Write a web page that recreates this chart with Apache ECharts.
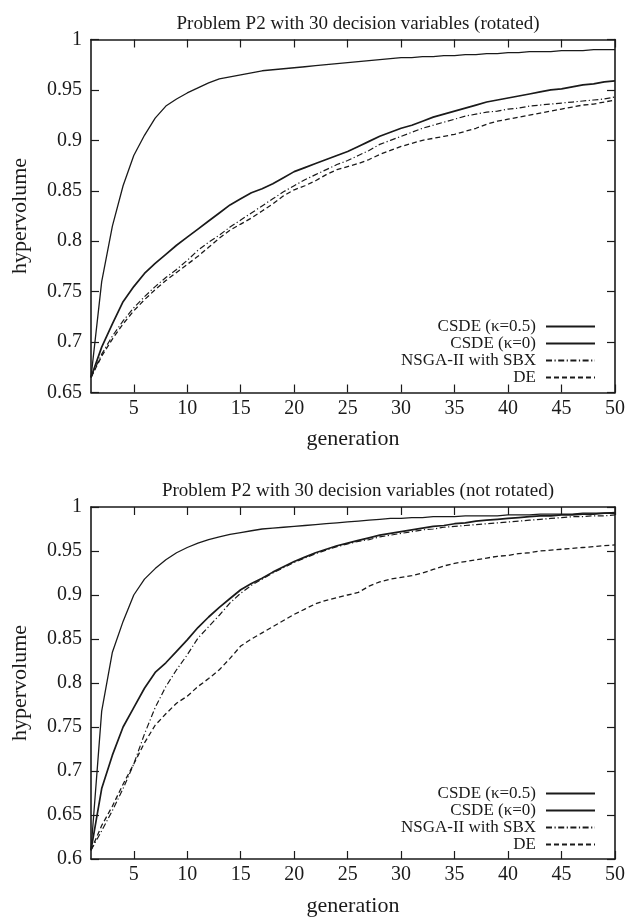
<!DOCTYPE html>
<html>
<head>
<meta charset="utf-8">
<script src="https://cdn.jsdelivr.net/npm/echarts@6/dist/echarts.min.js"></script>
<style>
  html, body { margin: 0; padding: 0; background: #ffffff; }
  #chart { width: 629px; height: 918px; }
</style>
</head>
<body>
<div id="chart"></div>
<script>
// Generations on the x axis
const generations = [1, 2, 3, 4, 5, 6, 7, 8, 9, 10, 11, 12, 13, 14, 15, 16, 17, 18, 19, 20,
  21, 22, 23, 24, 25, 26, 27, 28, 29, 30, 31, 32, 33, 34, 35, 36, 37, 38, 39, 40,
  41, 42, 43, 44, 45, 46, 47, 48, 49, 50];
const xTickValues = [5, 10, 15, 20, 25, 30, 35, 40, 45, 50];

const seriesNames = ['CSDE (κ=0.5)', 'CSDE (κ=0)', 'NSGA-II with SBX', 'DE'];
const panelTitles = [
  'Problem P2 with 30 decision variables (rotated)',
  'Problem P2 with 30 decision variables (not rotated)'
];

// Mean hypervolume per generation, rotated problem
const rotCsde05 = [0.665, 0.760, 0.815, 0.855, 0.885, 0.905, 0.922, 0.934, 0.941, 0.947,
  0.952, 0.957, 0.961, 0.963, 0.965, 0.967, 0.969, 0.970, 0.971, 0.972,
  0.973, 0.974, 0.975, 0.976, 0.977, 0.978, 0.979, 0.980, 0.981, 0.982,
  0.982, 0.983, 0.983, 0.984, 0.984, 0.985, 0.985, 0.986, 0.986, 0.987,
  0.987, 0.988, 0.988, 0.988, 0.989, 0.989, 0.989, 0.990, 0.990, 0.990];
const rotCsde0 = [0.665, 0.695, 0.718, 0.740, 0.755, 0.768, 0.778, 0.787, 0.796, 0.804,
  0.812, 0.820, 0.828, 0.836, 0.842, 0.848, 0.852, 0.857, 0.863, 0.869,
  0.873, 0.877, 0.881, 0.885, 0.889, 0.894, 0.899, 0.904, 0.908, 0.912,
  0.915, 0.919, 0.923, 0.926, 0.929, 0.932, 0.935, 0.938, 0.940, 0.942,
  0.944, 0.946, 0.948, 0.950, 0.951, 0.953, 0.955, 0.956, 0.958, 0.959];
const rotNsga = [0.665, 0.688, 0.706, 0.721, 0.734, 0.745, 0.755, 0.764, 0.772, 0.781,
  0.791, 0.799, 0.806, 0.814, 0.821, 0.828, 0.835, 0.842, 0.849, 0.855,
  0.861, 0.866, 0.871, 0.876, 0.880, 0.885, 0.890, 0.896, 0.900, 0.904,
  0.908, 0.912, 0.915, 0.918, 0.921, 0.924, 0.926, 0.928, 0.929, 0.931,
  0.932, 0.934, 0.935, 0.936, 0.937, 0.938, 0.939, 0.940, 0.941, 0.943];
const rotDe = [0.665, 0.686, 0.703, 0.718, 0.731, 0.742, 0.752, 0.761, 0.769, 0.777,
  0.785, 0.794, 0.803, 0.811, 0.817, 0.823, 0.830, 0.837, 0.845, 0.851,
  0.855, 0.860, 0.866, 0.871, 0.874, 0.877, 0.881, 0.886, 0.890, 0.894,
  0.897, 0.900, 0.902, 0.904, 0.906, 0.909, 0.912, 0.916, 0.919, 0.921,
  0.923, 0.925, 0.927, 0.929, 0.931, 0.933, 0.935, 0.936, 0.938, 0.940];

// Mean hypervolume per generation, non-rotated problem
const nrCsde05 = [0.610, 0.768, 0.835, 0.870, 0.900, 0.918, 0.930, 0.940, 0.948, 0.954,
  0.959, 0.963, 0.966, 0.969, 0.971, 0.973, 0.975, 0.976, 0.977, 0.978,
  0.979, 0.980, 0.981, 0.982, 0.983, 0.984, 0.985, 0.986, 0.987, 0.987,
  0.988, 0.988, 0.989, 0.989, 0.989, 0.990, 0.990, 0.990, 0.990, 0.991,
  0.991, 0.991, 0.992, 0.992, 0.992, 0.992, 0.993, 0.993, 0.993, 0.994];
const nrCsde0 = [0.610, 0.680, 0.718, 0.750, 0.772, 0.794, 0.812, 0.823, 0.836, 0.849,
  0.863, 0.875, 0.886, 0.896, 0.906, 0.913, 0.919, 0.926, 0.932, 0.938,
  0.943, 0.948, 0.952, 0.956, 0.959, 0.962, 0.965, 0.968, 0.970, 0.972,
  0.974, 0.976, 0.978, 0.979, 0.981, 0.982, 0.984, 0.985, 0.986, 0.987,
  0.988, 0.989, 0.990, 0.990, 0.991, 0.991, 0.992, 0.992, 0.993, 0.993];
const nrNsga = [0.610, 0.632, 0.655, 0.680, 0.708, 0.742, 0.772, 0.796, 0.815, 0.832,
  0.851, 0.864, 0.877, 0.891, 0.902, 0.911, 0.918, 0.925, 0.931, 0.937,
  0.942, 0.947, 0.951, 0.955, 0.958, 0.961, 0.963, 0.966, 0.968, 0.970,
  0.972, 0.974, 0.975, 0.977, 0.978, 0.979, 0.980, 0.981, 0.982, 0.983,
  0.984, 0.985, 0.986, 0.987, 0.988, 0.989, 0.989, 0.990, 0.990, 0.991];
const nrDe = [0.610, 0.638, 0.660, 0.685, 0.708, 0.732, 0.752, 0.765, 0.777, 0.785,
  0.796, 0.805, 0.815, 0.828, 0.842, 0.850, 0.857, 0.864, 0.871, 0.878,
  0.884, 0.890, 0.894, 0.897, 0.900, 0.903, 0.910, 0.915, 0.918, 0.920,
  0.922, 0.925, 0.929, 0.933, 0.936, 0.938, 0.940, 0.942, 0.944, 0.945,
  0.947, 0.948, 0.950, 0.951, 0.952, 0.953, 0.954, 0.955, 0.956, 0.957];

const FONT = '"Liberation Serif", "DejaVu Serif", serif';
const INK = '#1a1a1a';

const lineStyles = [
  { color: INK, width: 1.3, type: 'solid' },
  { color: INK, width: 1.7, type: 'solid' },
  { color: INK, width: 1.2, type: [6, 2.5, 1.2, 2.5] },
  { color: INK, width: 1.3, type: [5, 3] }
];

const panels = [
  { top: 39.5, height: 353, yMin: 0.65, data: [rotCsde05, rotCsde0, rotNsga, rotDe], legendTop: 313 },
  { top: 507, height: 352.5, yMin: 0.6, data: [nrCsde05, nrCsde0, nrNsga, nrDe], legendTop: 780 }
];

const grids = [], xAxes = [], yAxes = [], series = [], titles = [], legends = [];

const tickCommon = { show: true, inside: true, length: 8, lineStyle: { color: INK, width: 1.2 } };
const lineCommon = { show: true, onZero: false, lineStyle: { color: INK, width: 1.6 } };
const labelFont = { fontFamily: FONT, fontSize: 20, color: INK };

panels.forEach((p, i) => {
  grids.push({ left: 91, width: 524, top: p.top, height: p.height, containLabel: false });

  titles.push({
    text: panelTitles[i], left: 353, top: p.top - 30, textAlign: 'center',
    textStyle: { fontFamily: FONT, fontSize: 19, fontWeight: 'normal', color: INK }
  });

  // bottom axis with labels, top mirror axis with ticks only
  xAxes.push({
    type: 'value', gridIndex: i, position: 'bottom', min: 1, max: 50,
    axisLine: lineCommon,
    axisTick: Object.assign({ customValues: xTickValues }, tickCommon),
    axisLabel: Object.assign({ customValues: xTickValues, margin: 6 }, labelFont),
    splitLine: { show: false },
    name: 'generation', nameLocation: 'middle', nameGap: 36,
    nameTextStyle: { fontFamily: FONT, fontSize: 22, color: INK }
  });
  xAxes.push({
    type: 'value', gridIndex: i, position: 'top', min: 1, max: 50,
    axisLine: lineCommon,
    axisTick: Object.assign({ customValues: xTickValues }, tickCommon),
    axisLabel: { show: false, customValues: xTickValues },
    splitLine: { show: false }
  });

  yAxes.push({
    type: 'value', gridIndex: i, position: 'left', min: p.yMin, max: 1, interval: 0.05,
    axisLine: lineCommon, axisTick: tickCommon,
    axisLabel: Object.assign({ margin: 9 }, labelFont),
    splitLine: { show: false },
    name: 'hypervolume', nameLocation: 'middle', nameGap: 60, nameRotate: 90,
    nameTextStyle: { fontFamily: FONT, fontSize: 22, color: INK }
  });
  yAxes.push({
    type: 'value', gridIndex: i, position: 'right', min: p.yMin, max: 1, interval: 0.05,
    axisLine: lineCommon, axisTick: tickCommon,
    axisLabel: { show: false }, splitLine: { show: false }
  });

  p.data.forEach((vals, k) => {
    series.push({
      type: 'line', name: seriesNames[k],
      xAxisIndex: i * 2, yAxisIndex: i * 2,
      data: generations.map((g, j) => [g, vals[j]]),
      symbol: 'none', smooth: false, silent: true,
      lineStyle: lineStyles[k], itemStyle: { color: INK },
      z: 10 - k
    });
  });

  // key in the lower right corner: text first, then the line sample
  legends.push({
    orient: 'vertical', right: 28, top: p.legendTop, align: 'right',
    itemWidth: 49, itemHeight: 14, itemGap: 0, selectedMode: false,
    data: seriesNames,
    itemStyle: { opacity: 0, borderWidth: 0 },
    textStyle: { fontFamily: FONT, fontSize: 17, color: INK, lineHeight: 17, padding: [0, 5, 0, 0] }
  });
});

const chart = echarts.init(document.getElementById('chart'), null, { renderer: 'canvas' });
chart.setOption({
  animation: false,
  backgroundColor: '#ffffff',
  title: titles,
  legend: legends,
  grid: grids,
  xAxis: xAxes,
  yAxis: yAxes,
  series: series
});
</script>
</body>
</html>
